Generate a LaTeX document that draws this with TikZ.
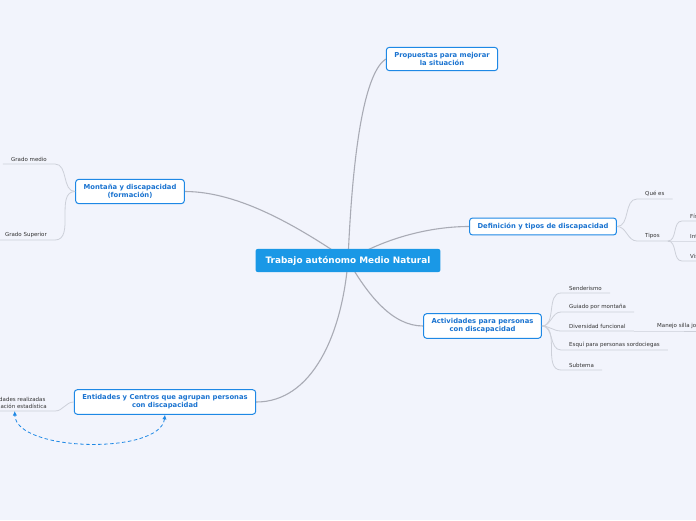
\documentclass[tikz,border=0pt]{standalone}
\usepackage{fontspec}
\setmainfont{DejaVu Sans}
\usetikzlibrary{arrows.meta,backgrounds}
\definecolor{mapcanvas}{HTML}{F2F4FC}
\definecolor{maphub}{HTML}{1A98E6}
\definecolor{mapframe}{HTML}{1E88E5}
\definecolor{maptopicink}{HTML}{1A73D0}
\definecolor{mapbranch}{HTML}{A9ABB5}
\definecolor{maptwig}{HTML}{CDD0D9}
\definecolor{mapleafink}{HTML}{333333}
\tikzset{
  hubnode/.style={fill=maphub,rounded corners=2pt,text=white,inner xsep=10pt,
    inner ysep=7pt,font=\fontsize{8.9}{10.5}\selectfont\bfseries},
  topicnode/.style={draw=mapframe,fill=white,rounded corners=3pt,line width=1pt,
    text=maptopicink,align=center,inner xsep=8pt,inner ysep=5pt,
    font=\fontsize{6.8}{8}\selectfont\bfseries},
  leafnode/.style={inner xsep=8pt,inner ysep=2.5pt,text=mapleafink,align=center,
    font=\fontsize{5.5}{6.6}\selectfont},
  branchline/.style={draw=mapbranch,line width=1.1pt},
  twigline/.style={draw=maptwig,line width=0.8pt},
  linkarrow/.style={draw=mapframe,line width=0.8pt,dash pattern=on 3.5pt off 2.5pt,
    {Latex[length=1.6mm,width=1.5mm]}-{Latex[length=1.6mm,width=1.5mm]}},
}

\begin{document}
\begin{tikzpicture}[x=1pt,y=-1pt]
  \path[use as bounding box] (0,0) rectangle (696,520);

  % centre and main topics
  \node[hubnode] (hub) at (348,260.5) {Trabajo autónomo Medio Natural};
  \node[topicnode] (prop) at (442,59) {Propuestas para mejorar\\la situación};
  \node[topicnode] (def) at (543,226.5) {Definición y tipos de discapacidad};
  \node[topicnode] (act) at (482.5,326) {Actividades para personas\\con discapacidad};
  \node[topicnode] (mon) at (130,191.5) {Montaña y discapacidad\\(formación)};
  \node[topicnode] (ent) at (165,402) {Entidades y Centros que agrupan personas\\con discapacidad};

  % leaves on the right
  \node[leafnode,anchor=south west] (que) at (637,199) {Qué es};
  \node[leafnode,anchor=south west] (tipos) at (637,241) {Tipos};
  \node[leafnode,anchor=south west] (fis) at (682,221) {Física};
  \node[leafnode,anchor=south west] (inte) at (682,241) {Intelectual};
  \node[leafnode,anchor=south west] (vis) at (682,261) {Visual};
  \foreach \n/\y/\t in {sen/293/Senderismo,gui/312/Guiado por montaña,
      div/331/Diversidad funcional,esq/350/Esquí para personas sordociegas,
      sub/370/Subtema}
    {\node[leafnode,anchor=south west] (\n) at (561,\y) {\t};}
  \node[leafnode,anchor=south west] (man) at (649,331) {Manejo silla joëlette};

  % leaves on the left
  \node[leafnode,anchor=south east] (gmed) at (55,164) {Grado medio};
  \node[leafnode,anchor=south east] (gsup) at (55,240) {Grado Superior};
  \node[leafnode,anchor=south east] (info) at (55,411) {Actividades realizadas\\Información estadística};

  \begin{pgfonlayer}{background}
    \fill[mapcanvas] (0,0) rectangle (696,520);
    \draw[branchline] (hub.center) .. controls (353,140) and (366,72) .. (prop.west);
    \draw[branchline] (hub.center) .. controls (385,238) and (430,226.5) .. (def.west);
    \draw[branchline] (hub.center) .. controls (368,295) and (392,326) .. (act.west);
    \draw[branchline] (hub.center) .. controls (300,228) and (240,191.5) .. (mon.east);
    \draw[branchline] (hub.center) .. controls (342,335) and (312,402) .. (ent.east);
  \end{pgfonlayer}

  \foreach \n in {que,tipos}
    {\draw[twigline] (def.east) to[out=0,in=180] (\n.south west) -- (\n.south east);}
  \foreach \n in {fis,inte,vis}
    {\draw[twigline] (tipos.south east) to[out=0,in=180] (\n.south west) -- (\n.south east);}
  \foreach \n in {sen,gui,div,esq,sub}
    {\draw[twigline] (act.east) to[out=0,in=180] (\n.south west) -- (\n.south east);}
  \draw[twigline] (div.south east) -- (man.south west) -- (man.south east);
  \foreach \n in {gmed,gsup}
    {\draw[twigline] (mon.west) to[out=180,in=0] (\n.south east) -- (\n.south west);}
  \draw[twigline] (ent.west) to[out=180,in=0] (info.south east) -- (info.south west);

  \draw[linkarrow] (ent.south) .. controls (160,455) and (16,452) .. (info.south);
\end{tikzpicture}
\end{document}
